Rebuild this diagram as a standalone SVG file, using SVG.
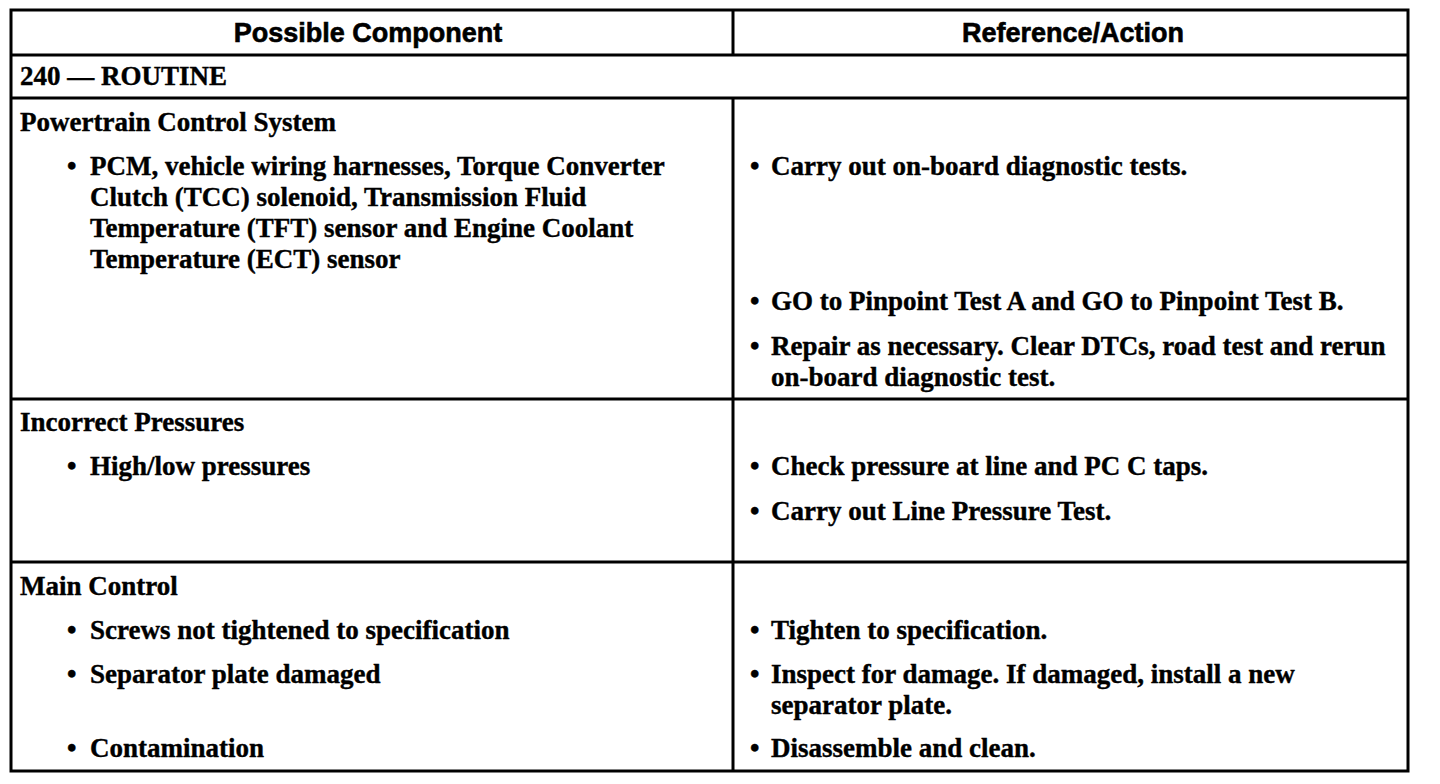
<svg xmlns="http://www.w3.org/2000/svg" width="1440" height="784" viewBox="0 0 1440 784">
<style>
.hd{font-family:"Liberation Sans",Arial,sans-serif;font-weight:bold;font-size:27px;fill:#000;stroke:#000;stroke-width:0.6;text-anchor:middle}
.t{font-family:"Liberation Serif","Times New Roman",serif;font-weight:bold;font-size:27px;fill:#000;stroke:#000;stroke-width:0.4}
.ln{stroke:#000;stroke-width:3;fill:none}
</style>
<rect width="1440" height="784" fill="#fff"/>
<g id="grid">
<rect class="ln" x="11" y="10" width="1397" height="761"/>
<line class="ln" x1="11" y1="55" x2="1408" y2="55" stroke-width="4"/>
<line class="ln" x1="11" y1="98" x2="1408" y2="98"/>
<line class="ln" x1="11" y1="399" x2="1408" y2="399"/>
<line class="ln" x1="11" y1="562" x2="1408" y2="562"/>
<line class="ln" x1="733" y1="10" x2="733" y2="55"/>
<line class="ln" x1="733" y1="98" x2="733" y2="771"/>
</g>
<g id="header">
<text class="hd" x="368" y="42">Possible Component</text>
<text class="hd" x="1073" y="42">Reference/Action</text>
</g>
<g id="row-240">
<text class="t" x="20" y="85">240 — ROUTINE</text>
</g>
<g id="row-powertrain">
<text class="t" x="20" y="131">Powertrain Control System</text>
<text class="t" x="67" y="175">•</text>
<text class="t" x="90" y="175">PCM, vehicle wiring harnesses, Torque Converter</text>
<text class="t" x="90" y="206">Clutch (TCC) solenoid, Transmission Fluid</text>
<text class="t" x="90" y="237">Temperature (TFT) sensor and Engine Coolant</text>
<text class="t" x="90" y="268">Temperature (ECT) sensor</text>
<text class="t" x="750" y="175">•</text>
<text class="t" x="771" y="175">Carry out on-board diagnostic tests.</text>
<text class="t" x="750" y="310">•</text>
<text class="t" x="771" y="310">GO to Pinpoint Test A and GO to Pinpoint Test B.</text>
<text class="t" x="750" y="355">•</text>
<text class="t" x="771" y="355">Repair as necessary. Clear DTCs, road test and rerun</text>
<text class="t" x="771" y="386">on-board diagnostic test.</text>
</g>
<g id="row-pressures">
<text class="t" x="20" y="431">Incorrect Pressures</text>
<text class="t" x="67" y="475">•</text>
<text class="t" x="90" y="475">High/low pressures</text>
<text class="t" x="750" y="475">•</text>
<text class="t" x="771" y="475">Check pressure at line and PC C taps.</text>
<text class="t" x="750" y="520">•</text>
<text class="t" x="771" y="520">Carry out Line Pressure Test.</text>
</g>
<g id="row-main">
<text class="t" x="20" y="595">Main Control</text>
<text class="t" x="67" y="639">•</text>
<text class="t" x="90" y="639">Screws not tightened to specification</text>
<text class="t" x="67" y="683">•</text>
<text class="t" x="90" y="683">Separator plate damaged</text>
<text class="t" x="67" y="757">•</text>
<text class="t" x="90" y="757">Contamination</text>
<text class="t" x="750" y="639">•</text>
<text class="t" x="771" y="639">Tighten to specification.</text>
<text class="t" x="750" y="683">•</text>
<text class="t" x="771" y="683">Inspect for damage. If damaged, install a new</text>
<text class="t" x="771" y="714">separator plate.</text>
<text class="t" x="750" y="757">•</text>
<text class="t" x="771" y="757">Disassemble and clean.</text>
</g>
</svg>
